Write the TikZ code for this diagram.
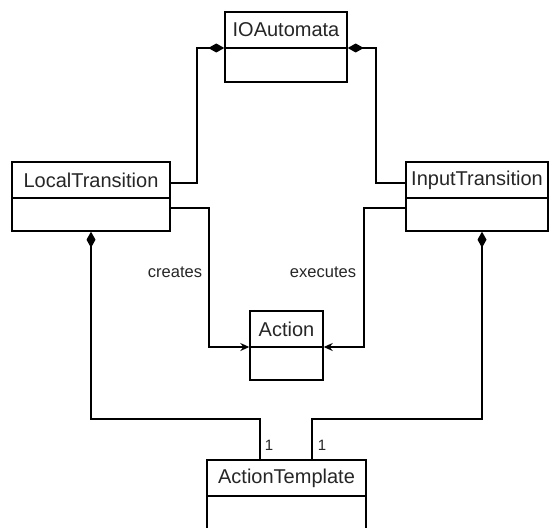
\documentclass[tikz,border=0pt]{standalone}
\usepackage{fontspec}
\setmainfont{Liberation Sans}
\usetikzlibrary{arrows.meta,calc}
\begin{document}
\begin{tikzpicture}[x=1pt,y=-1pt,
  classbox/.style={draw, line width=1.4pt, inner sep=0pt, fill=white},
  cname/.style={font=\fontsize{20}{24}\selectfont, inner sep=0pt, text=black!85},
  small/.style={font=\fontsize{16.5}{20}\selectfont, inner sep=0pt, text=black!85},
  mult/.style={font=\fontsize{15}{18}\selectfont, inner sep=0pt, text=black!85},
  conn/.style={draw, line width=1.4pt},
  comp/.style={-{Diamond[length=16pt,width=9pt]}},
  nav/.style={-{Stealth[length=9pt,width=8pt,inset=3pt]}}
]
\useasboundingbox (0,0) rectangle (553,527);
\clip (0,0) rectangle (553,527);
\fill[white] (0,0) rectangle (553,527);

% classes
\node[classbox, minimum width=122pt, minimum height=70pt] (io) at (286,47) {};
\node[cname] (ioN) at (286,30) {IOAutomata};
\draw[line width=1.4pt] (io.west|-0,48) -- (io.east|-0,48);

\node[classbox, minimum width=158pt, minimum height=69pt] (lt) at (91,196.5) {};
\node[cname] (ltN) at (91,180) {LocalTransition};
\draw[line width=1.4pt] (lt.west|-0,198) -- (lt.east|-0,198);

\node[classbox, minimum width=142pt, minimum height=69pt] (it) at (477,196.5) {};
\node[cname] (itN) at (477,180) {InputTransition};
\draw[line width=1.4pt] (it.west|-0,198) -- (it.east|-0,198);

\node[classbox, minimum width=73pt, minimum height=69pt] (ac) at (286.5,345.5) {};
\node[cname] (acN) at (286.5,329) {Action};
\draw[line width=1.4pt] (ac.west|-0,347) -- (ac.east|-0,347);

\node[classbox, minimum width=159pt, minimum height=100pt] (at) at (286.5,510) {};
\node[cname] (atN) at (286.5,478) {ActionTemplate};
\draw[line width=1.4pt] (at.west|-0,496) -- (at.east|-0,496);

% compositions to IOAutomata
\draw[conn, comp] (lt.east|-0,183) -- (197,183) -- (197,48) -- (io.west|-0,48);
\draw[conn, comp] (it.west|-0,183) -- (376,183) -- (376,48) -- (io.east|-0,48);

% navigable associations to Action
\draw[conn, nav] (lt.east|-0,208) -- (209,208) -- (209,347) -- (ac.west|-0,347);
\draw[conn, nav] (it.west|-0,208) -- (364,208) -- (364,347) -- (ac.east|-0,347);
\node[small] (cr) at (175,272) {creates};
\node[small] (ex) at (323,272) {executes};

% compositions to ActionTemplate
\draw[conn, comp] (at.north-|260,0) -- (260,419) -- (91,419) -- (lt.south-|91,0);
\draw[conn, comp] (at.north-|312,0) -- (312,419) -- (482,419) -- (it.south-|482,0);
\node[mult] (m1) at (269,445) {1};
\node[mult] (m2) at (322,445) {1};
\end{tikzpicture}
\end{document}
